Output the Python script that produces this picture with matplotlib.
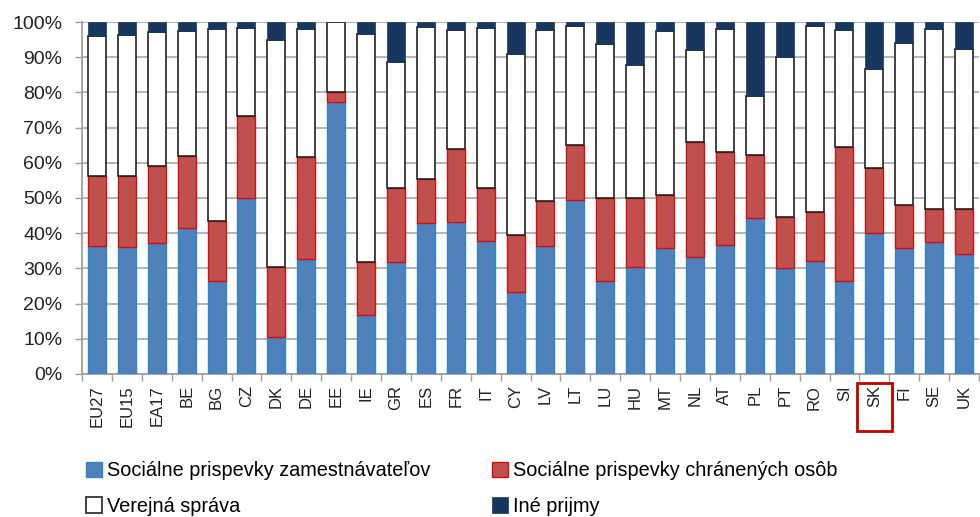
import numpy as np
import matplotlib
matplotlib.use("Agg")
import matplotlib.pyplot as plt
from matplotlib.patches import Rectangle
from matplotlib.transforms import blended_transform_factory

plt.rcParams['font.family'] = ['Liberation Sans', 'DejaVu Sans']

krajiny = ['EU27', 'EU15', 'EA17', 'BE', 'BG', 'CZ', 'DK', 'DE', 'EE', 'IE',
           'GR', 'ES', 'FR', 'IT', 'CY', 'LV', 'LT', 'LU', 'HU', 'MT',
           'NL', 'AT', 'PL', 'PT', 'RO', 'SI', 'SK', 'FI', 'SE', 'UK']

# podiely v % (odčítané z grafu)
zamestnavatelia = [36.4, 36.1, 37.1, 41.4, 26.4, 49.9, 10.6, 32.7, 77.3, 16.8,
                   31.8, 42.8, 43.1, 37.8, 23.4, 36.4, 49.5, 26.5, 30.5, 35.8,
                   33.1, 36.7, 44.4, 30.0, 32.1, 26.4, 40.1, 35.7, 37.4, 34.1]
chranene_osoby = [19.9, 20.2, 21.9, 20.6, 17.2, 23.4, 19.7, 28.9, 2.7, 15.0,
                  21.0, 12.5, 20.8, 15.1, 16.1, 12.8, 15.5, 23.4, 19.4, 15.1,
                  32.9, 26.3, 17.9, 14.5, 13.8, 38.1, 18.5, 12.2, 9.4, 12.7]
verejna_sprava = [39.7, 40.0, 38.1, 35.4, 54.4, 24.9, 64.7, 36.3, 20.0, 64.9,
                  35.8, 43.4, 33.8, 45.4, 51.4, 48.5, 33.8, 43.8, 37.8, 46.5,
                  26.0, 35.0, 16.6, 45.5, 53.1, 33.2, 28.0, 46.1, 51.2, 45.5]
ine_prijmy = [4.0, 3.7, 2.9, 2.6, 2.0, 1.8, 5.0, 2.1, 0.0, 3.3,
              11.4, 1.3, 2.3, 1.7, 9.1, 2.3, 1.2, 6.3, 12.3, 2.6,
              8.0, 2.0, 21.1, 10.0, 1.0, 2.3, 13.4, 6.0, 2.0, 7.7]

fig = plt.figure(figsize=(9.8, 5.17), dpi=100)
ax = fig.add_axes([82 / 980, 143 / 517, 897 / 980, 352 / 517])

x = np.arange(len(krajiny))
w = 0.6
b1 = np.array(zamestnavatelia)
b2 = b1 + np.array(chranene_osoby)
b3 = b2 + np.array(verejna_sprava)

ax.bar(x, zamestnavatelia, w, color='#4F81BD', edgecolor='#2E86D1', lw=1,
       label='Sociálne prispevky zamestnávateľov', zorder=3)
ax.bar(x, chranene_osoby, w, bottom=b1, color='#C0504D', edgecolor='#D01010', lw=1,
       label='Sociálne prispevky chránených osôb', zorder=3)
ax.bar(x, verejna_sprava, w, bottom=b2, color='white', edgecolor='#222222', lw=1.2,
       label='Verejná správa', zorder=3)
ax.bar(x, ine_prijmy, w, bottom=b3, color='#17375E', edgecolor='#17375E', lw=0.5,
       label='Iné prijmy', zorder=3)

ax.set_xlim(-0.5, len(krajiny) - 0.5)
ax.set_ylim(0, 100)
ax.set_yticks(np.arange(0, 101, 10))
ax.set_yticklabels([f'{v}%' for v in range(0, 101, 10)], fontsize=14, color='#222222')
ax.yaxis.grid(True, color='#b0b0b0', lw=1.3, zorder=0)
ax.tick_params(axis='y', length=5, width=1, color='#a0a0a0', pad=9)

ax.set_xticks(x)
ax.set_xticklabels(krajiny, rotation=90, fontsize=12, color='#222222')
ax.set_xticks(np.arange(-0.5, len(krajiny), 1), minor=True)
ax.tick_params(axis='x', which='major', length=0, pad=8)
ax.tick_params(axis='x', which='minor', length=5, width=1, color='#a0a0a0')

for s in ['top', 'right']:
    ax.spines[s].set_visible(False)
for s in ['left', 'bottom']:
    ax.spines[s].set_color('#a0a0a0')
    ax.spines[s].set_linewidth(1.3)

# červený rámik okolo SK
i_sk = krajiny.index('SK')
tr = blended_transform_factory(ax.transData, fig.transFigure)
fig.add_artist(Rectangle((i_sk - 0.58, 1 - 431 / 517), 1.16, 48 / 517,
                         transform=tr, fill=False, edgecolor='#C00000', lw=2))

handles, labels = ax.get_legend_handles_labels()
order = [0, 2, 1, 3]
fig.legend([handles[i] for i in order], [labels[i] for i in order],
           loc='upper left', bbox_to_anchor=(86 / 980, 1 - 461 / 517), ncol=2,
           frameon=False, fontsize=14.3, handlelength=0.8, handleheight=0.8,
           handletextpad=0.25, columnspacing=3.1, labelspacing=0.85,
           borderaxespad=0, borderpad=0)

fig.savefig('out.png', dpi=100)
